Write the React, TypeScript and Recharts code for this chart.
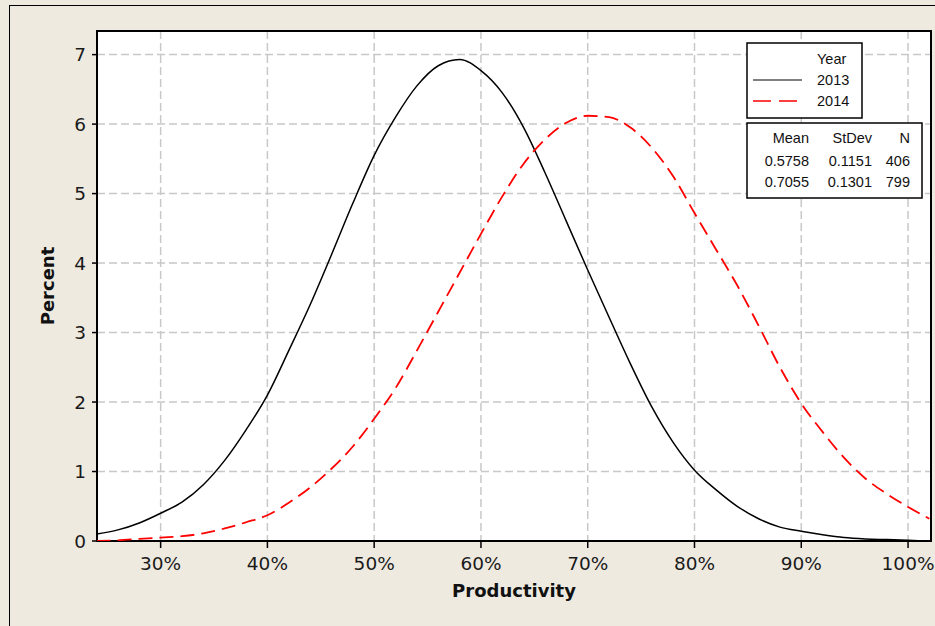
import { CartesianGrid, Line, LineChart, ReferenceArea, XAxis, YAxis } from "recharts";

// productivity (%) sample points
const productivity = [
  24, 26, 28, 30, 32, 34, 36, 38, 40, 42, 44, 46, 48, 50, 52, 54, 56, 58, 60, 62,
  64, 66, 68, 70, 72, 74, 76, 78, 80, 82, 84, 86, 88, 90, 92, 94, 96, 98, 100, 102,
];

// percent
const pct2013 = [
  0.1, 0.16, 0.26, 0.4, 0.56, 0.81, 1.16, 1.6, 2.1, 2.74, 3.4, 4.12, 4.86, 5.55, 6.1, 6.55, 6.84, 6.93, 6.77, 6.45,
  5.95, 5.3, 4.6, 3.9, 3.22, 2.55, 1.93, 1.42, 1.02, 0.74, 0.5, 0.32, 0.2, 0.14, 0.09, 0.05, 0.03, 0.02, 0.01, 0,
];
const pct2014 = [
  0, 0.01, 0.03, 0.05, 0.07, 0.11, 0.18, 0.27, 0.37, 0.55, 0.77, 1.04, 1.36, 1.76, 2.2, 2.74, 3.3, 3.86, 4.42, 4.96,
  5.43, 5.78, 6.02, 6.12, 6.1, 5.95, 5.66, 5.25, 4.72, 4.2, 3.68, 3.1, 2.5, 1.98, 1.57, 1.2, 0.9, 0.68, 0.49, 0.32,
];

const xTicks = [30, 40, 50, 60, 70, 80, 90, 100];
const yTicks = [0, 1, 2, 3, 4, 5, 6, 7];

const years = ["2013", "2014"];
const means = ["0.5758", "0.7055"];
const stdevs = ["0.1151", "0.1301"];
const counts = ["406", "799"];

const data = productivity.map((p, i) => ({ p, y2013: pct2013[i], y2014: pct2014[i] }));

const bg = "#EEEAE0";
const gridColor = "#C8C8C8";
const font = "'DejaVu Sans', sans-serif";
const legendFont = "'Liberation Sans', Arial, sans-serif";
const X_MIN = 24.04;
const X_MAX = 102.15;
const Y_MAX = 7.34;

function LegendBoxes() {
  return (
    <>
      <svg style={{ position: "absolute", left: 746, top: 42 }} width={117} height={77}>
        <rect x={1} y={1} width={115} height={75} fill="#fff" stroke="#000" strokeWidth={1.5} />
        <g fontFamily={legendFont} fontSize={14.5} fill="#111">
          <text x={71} y={22}>Year</text>
          <line x1={7} x2={56} y1={38} y2={38} stroke="#000" strokeWidth={1.2} />
          <text x={71} y={43}>{years[0]}</text>
          <line x1={7} x2={56} y1={59} y2={59} stroke="#f00" strokeWidth={1.5} strokeDasharray="18 8" />
          <text x={71} y={64}>{years[1]}</text>
        </g>
      </svg>
      <svg style={{ position: "absolute", left: 746, top: 122 }} width={177} height={77}>
        <rect x={1} y={1} width={175} height={75} fill="#fff" stroke="#000" strokeWidth={1.5} />
        <g fontFamily={legendFont} fontSize={14.5} fill="#111" textAnchor="end">
          <text x={63} y={21}>Mean</text>
          <text x={126} y={21}>StDev</text>
          <text x={164} y={21}>N</text>
          {means.map((m, i) => (
            <g key={m}>
              <text x={63} y={44 + i * 21}>{m}</text>
              <text x={126} y={44 + i * 21}>{stdevs[i]}</text>
              <text x={164} y={44 + i * 21}>{counts[i]}</text>
            </g>
          ))}
        </g>
      </svg>
    </>
  );
}

export default function App() {
  return (
    <div style={{ position: "absolute", left: 0, top: 0, width: 935, height: 626, background: bg, overflow: "hidden" }}>
      <div
        style={{
          position: "absolute",
          left: 9,
          top: 5,
          width: 2000,
          height: 2000,
          borderLeft: "1px solid #000",
          borderTop: "1px solid #000",
        }}
      />
      <div style={{ position: "absolute", left: 0, top: 0 }}>
        <LineChart width={935} height={626} data={data} margin={{ top: 31, right: 4, bottom: 0, left: 0 }}>
          <CartesianGrid
            fill="#fff"
            stroke={gridColor}
            strokeWidth={1.5}
            strokeDasharray="8 4"
          />
          <XAxis
            dataKey="p"
            type="number"
            domain={[X_MIN, X_MAX]}
            allowDataOverflow
            ticks={xTicks}
            tickFormatter={(v) => `${v}%`}
            height={85}
            axisLine={false}
            tickLine={{ stroke: "#000", strokeWidth: 1.5 }}
            tickSize={7}
            tickMargin={9}
            tick={{ fill: "#1a1a1a", fontSize: 18.5, fontFamily: font }}
            label={{
              value: "Productivity",
              position: "insideBottom",
              offset: 29,
              style: { fontFamily: font, fontSize: 18, fontWeight: "bold", fill: "#111" },
            }}
          />
          <YAxis
            type="number"
            domain={[0, Y_MAX]}
            allowDataOverflow
            ticks={yTicks}
            width={97}
            axisLine={false}
            tickLine={{ stroke: "#000", strokeWidth: 1.5 }}
            tickSize={5}
            tickMargin={6}
            tick={{ fill: "#1a1a1a", fontSize: 18.5, fontFamily: font }}
            label={{
              value: "Percent",
              angle: -90,
              position: "insideLeft",
              offset: 48,
              style: { textAnchor: "middle", fontFamily: font, fontSize: 18, fontWeight: "bold", fill: "#111" },
            }}
          />
          <Line
            dataKey="y2013"
            type="monotone"
            stroke="#000"
            strokeWidth={1.5}
            dot={false}
            activeDot={false}
            isAnimationActive={false}
          />
          <Line
            dataKey="y2014"
            type="monotone"
            stroke="#f00"
            strokeWidth={1.8}
            strokeDasharray="14 7"
            dot={false}
            activeDot={false}
            isAnimationActive={false}
          />
          <ReferenceArea
            x1={X_MIN}
            x2={X_MAX}
            y1={0}
            y2={Y_MAX}
            fill="none"
            fillOpacity={0}
            stroke="#000"
            strokeWidth={2}
            ifOverflow="visible"
          />
        </LineChart>
      </div>
      <LegendBoxes />
    </div>
  );
}
